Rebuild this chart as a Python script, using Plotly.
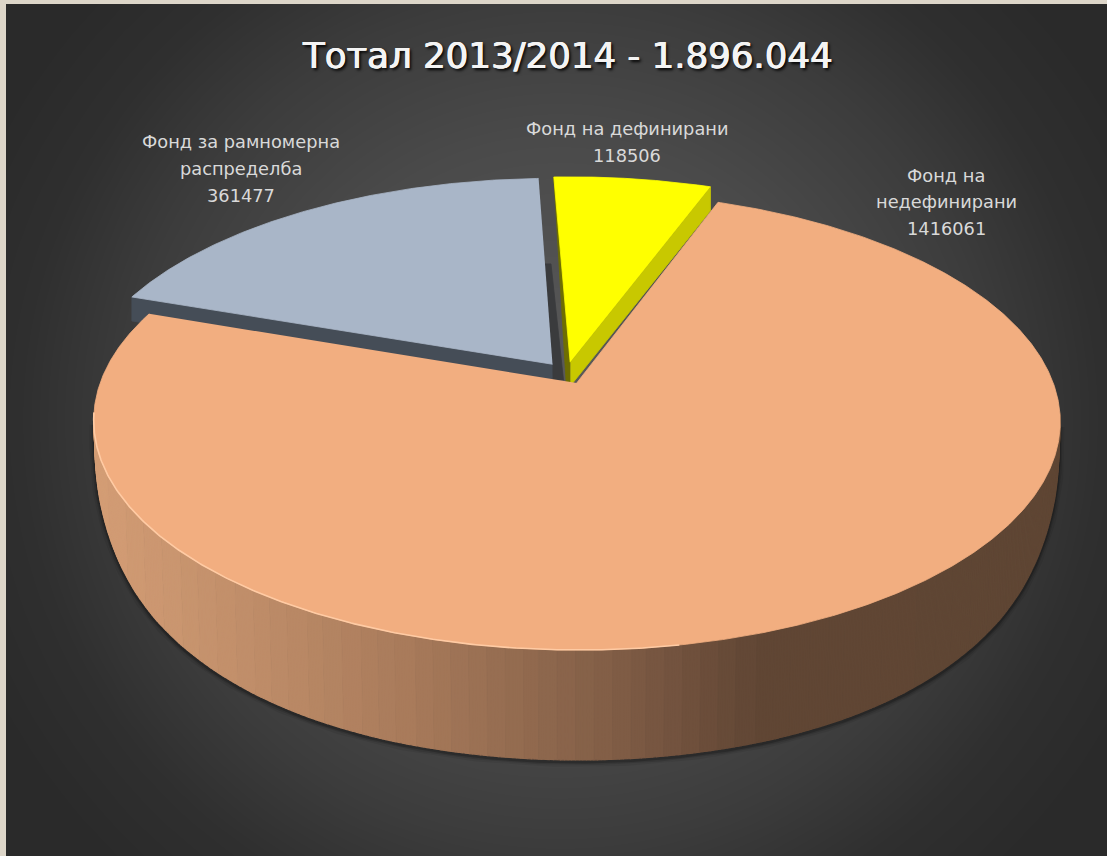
import numpy as np
import plotly.graph_objects as go

title = "Тотал 2013/2014 - 1.896.044"
categories = ["Фонд на недефинирани", "Фонд за рамномерна распределба", "Фонд на дефинирани"]
values = [1416061, 361477, 118506]
label_lines = [["Фонд на", "недефинирани", "1416061"],
               ["Фонд за рамномерна", "распределба", "361477"],
               ["Фонд на дефинирани", "118506"]]
top_colors = ["#F2AE80", "#A9B6C8", "#FFFF00"]

W, H = 1107, 856
START = 20.25
EXPLODE = 0.05
X0, Y0, RX, RY, K = 566.5, 373.0, 473.0, 219.3, 0.165
WALL_Y = [350, 385, 410, 430, 450, 471, 490, 510, 530, 550, 570, 590, 610, 630, 650]
WALL_H = [24, 24, 8, 32, 47, 60, 71, 81, 89, 95, 100, 104, 107, 109, 110]

def top_proj(u, v):
    w = 1 + K * v
    return X0 + RX * u / w, Y0 - RY * v / w

def drop(x, y):
    h = np.interp(y, WALL_Y, WALL_H)
    s = np.clip((np.asarray(y) - 350.0) / 300.0, 0, 1)
    return 577 + (np.asarray(x) - 577) * (1 - 0.010 * s), np.asarray(y) + h

total = sum(values)
slices = []
a = START
for val in values:
    sweep = 360.0 * val / total
    slices.append((a, a + sweep))
    a += sweep

def disc_offset(a0, a1):
    b = np.radians((a0 + a1) / 2)
    return EXPLODE * np.sin(b), EXPLODE * np.cos(b)

def rim(i, n=240):
    a0, a1 = slices[i]
    th = np.radians(np.linspace(a0, a1, n))
    ou, ov = disc_offset(a0, a1)
    return top_proj(ou + np.sin(th), ov + np.cos(th))

def apex(i):
    ou, ov = disc_offset(*slices[i])
    return top_proj(ou, ov)

def poly(xs, ys, color, line=None, lw=0.8):
    return go.Scatter(x=list(xs), y=list(ys), mode="lines", fill="toself", fillcolor=color,
                      line=dict(color=line or color, width=lw), hoverinfo="skip", showlegend=False)

fig = go.Figure()

# background: radial gradient
gx = np.linspace(0, W, 140)
gy = np.linspace(0, H, 110)
GX, GY = np.meshgrid(gx, gy)
rr = np.sqrt(((GX - 560) / 490) ** 2 + ((GY - 420) / 480) ** 2)
fig.add_trace(go.Heatmap(x=gx, y=gy, z=np.clip(rr, 0, 1.3), zmin=0, zmax=1.3, zsmooth="best", showscale=False,
                         hoverinfo="skip",
                         colorscale=[[0, "#5c5c5c"], [0.45, "#4a4a4a"], [0.68, "#3c3c3c"], [0.85, "#2f2f2f"], [1, "#2a2a2a"]]))

# grey slice
gxr, gyr = rim(1)
gax, gay = apex(1)
# soft shadow in the gap beside the yellow slice
t = np.array([0.0, 0.54])
sx = gax + (gxr[-1] - gax) * t
sy = gay + (gyr[-1] - gay) * t
fig.add_trace(poly([sx[0], sx[1], sx[1] + 6, sx[0] + 11], [sy[0] + 16, sy[1], sy[1], sy[0] + 16], "#3A3B3D"))
bx, by = drop([gax, gxr[0]], [gay, gyr[0]])
fig.add_trace(poly([gax, gxr[0], bx[1], bx[0]], [gay, gyr[0], by[1], by[0]], "#454D57"))
fig.add_trace(poly([gax, *gxr], [gay, *gyr], top_colors[1]))

# yellow slice
yxr, yyr = rim(2)
yax, yay = apex(2)
bx, by = drop([yax, yxr[-1]], [yay, yyr[-1]])
fig.add_trace(poly([yax, yxr[-1], bx[1], bx[0]], [yay, yyr[-1], by[1], by[0]], "#C8C800"))
fig.add_trace(poly([yax, yxr[0], yax - 4, yax], [yay, yyr[0], yay + 21, yay + 21], "#6E6E00"))
fig.add_trace(poly([yax, *yxr], [yay, *yyr], top_colors[2]))

# orange slice: shadow, wall bands, top
oxr, oyr = rim(0, 720)
oax, oay = apex(0)
obx, oby = drop(oxr, oyr)
front = oyr > 412
for width, alpha in [(11, 0.07), (7, 0.12), (4, 0.2)]:
    fig.add_trace(go.Scatter(x=obx[front], y=oby[front] + 1.5, mode="lines", hoverinfo="skip", showlegend=False,
                             line=dict(color=f"rgba(0,0,0,{alpha})", width=width)))

stops_x = [94, 250, 400, 600, 760, 1060]
stops_r = [212, 192, 170, 132, 97, 95]
stops_g = [158, 142, 124, 96, 70, 70]
stops_b = [118, 106, 92, 72, 53, 52]
idx = np.where(front)[0]
band_width = 18.0
bands = {}
for j in range(len(idx) - 1):
    p, q = idx[j], idx[j + 1]
    bands.setdefault(int((oxr[p] + oxr[q]) / 2 // band_width), []).append((p, q))
for b in sorted(bands):
    mx = (b + 0.5) * band_width
    col = "rgb(%d,%d,%d)" % (np.interp(mx, stops_x, stops_r), np.interp(mx, stops_x, stops_g), np.interp(mx, stops_x, stops_b))
    xs, ys = [], []
    for p, q in bands[b]:
        xs += [oxr[p], oxr[q], obx[q], obx[p], None]
        ys += [oyr[p], oyr[q], oby[q], oby[p], None]
    fig.add_trace(poly(xs, ys, col, lw=1.2))

fig.add_trace(poly([oax, *oxr], [oay, *oyr], top_colors[0]))
hl = front & (oxr < 680)
fig.add_trace(go.Scatter(x=oxr[hl], y=oyr[hl], mode="lines", hoverinfo="skip", showlegend=False,
                         line=dict(color="#FFCBA4", width=1.6)))

# text
ann = [dict(x=567, y=55, text=title, showarrow=False, xref="x", yref="y", xanchor="center", yanchor="middle",
            font=dict(family="DejaVu Sans", size=35.6, color="#F4F4F4",
                      shadow="0.6px 0 0.6px #F4F4F4, -0.6px 0 0.6px #F4F4F4, 2px 2px 3px #000000"))]
line_y = [[175, 201, 228], [141, 168, 195], [128, 155]]
line_x = [946, 241, 627]
for lines, ys, x in zip(label_lines, line_y, line_x):
    for t, y in zip(lines, ys):
        ann.append(dict(x=x, y=y, text=t, showarrow=False, xref="x", yref="y", xanchor="center", yanchor="middle",
                        font=dict(family="DejaVu Sans", size=17.8, color="#D9D9D9")))

border = "#DDD6C9"
shapes = [dict(type="rect", xref="x", yref="y", x0=0, x1=6, y0=0, y1=H, fillcolor=border, line_width=0, layer="above"),
          dict(type="rect", xref="x", yref="y", x0=0, x1=W, y0=0, y1=4, fillcolor=border, line_width=0, layer="above")]

fig.update_layout(width=W, height=H, margin=dict(l=0, r=0, t=0, b=0), showlegend=False,
                  paper_bgcolor=border, plot_bgcolor=border, annotations=ann, shapes=shapes,
                  xaxis=dict(range=[0, W], visible=False, fixedrange=True),
                  yaxis=dict(range=[H, 0], visible=False, fixedrange=True))
fig.write_html("out.html", config=dict(displayModeBar=False), post_script="document.body.style.margin='0';")
